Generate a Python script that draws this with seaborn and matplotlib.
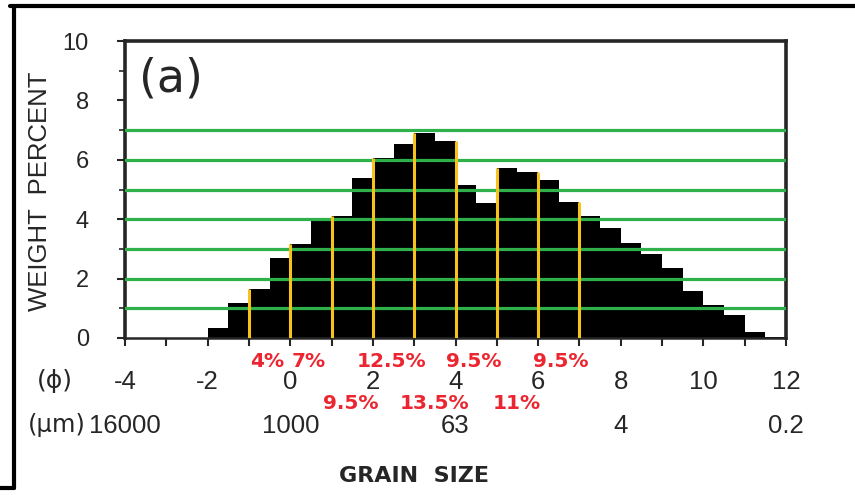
import numpy as np
import pandas as pd
import seaborn as sns
import matplotlib.pyplot as plt
from matplotlib.lines import Line2D

# Данные: левые границы бинов (phi, шаг 0.5) и весовые проценты
phi_left = [-2.0, -1.5, -1.0, -0.5, 0.0, 0.5, 1.0, 1.5, 2.0, 2.5,
            3.0, 3.5, 4.0, 4.5, 5.0, 5.5, 6.0, 6.5, 7.0, 7.5,
            8.0, 8.5, 9.0, 9.5, 10.0, 10.5, 11.0, 11.5]
weight_pct = [0.33, 1.19, 1.65, 2.68, 3.15, 3.94, 4.10, 5.38, 6.07, 6.52,
              6.89, 6.64, 5.15, 4.53, 5.73, 5.60, 5.32, 4.57, 4.10, 3.69,
              3.21, 2.83, 2.35, 1.59, 1.11, 0.76, 0.19, 0.04]
bin_width = 0.5

# Горизонтальные (зелёные) и вертикальные (жёлтые) линии
green_levels = [1, 2, 3, 4, 5, 6, 7]
yellow_phi = [-1, 0, 1, 2, 3, 4, 5, 6, 7]

# Проценты по интервалам в 1 phi
pct_top_mid = [-0.55, 0.45, 2.45, 4.45, 6.55]
pct_top_txt = ['4%', '7%', '12.5%', '9.5%', '9.5%']
pct_bot_mid = [1.47, 3.5, 5.48]
pct_bot_txt = ['9.5%', '13.5%', '11%']

# Подписи осей
phi_ticks = [-4, -2, 0, 2, 4, 6, 8, 10, 12]
um_ticks = [-4, 0, 4, 8, 12]
um_labels = ['16000', '1000', '63', '4', '0.2']

sns.set_style('ticks')
plt.rcParams['font.family'] = ['Liberation Sans', 'DejaVu Sans']
plt.rcParams['axes.unicode_minus'] = False

df = pd.DataFrame({'phi': np.array(phi_left) + bin_width / 2, 'w': weight_pct})
edges = list(phi_left) + [phi_left[-1] + bin_width]

fig = plt.figure(figsize=(8.55, 4.95), dpi=100)
ax = fig.add_axes([125 / 855, 1 - 338 / 495, 661 / 855, 297 / 495])

sns.histplot(data=df, x='phi', weights='w', bins=edges, stat='count',
             color='black', alpha=1, linewidth=0, ax=ax, zorder=2)

for lv in green_levels:
    ax.axhline(lv, color='#2fb04a', lw=2.3, zorder=3)

h = dict(zip(phi_left, weight_pct))
ytops = [max(h.get(p - bin_width, 0), h.get(float(p), 0)) for p in yellow_phi]
ax.vlines(yellow_phi, 0, ytops, color='#f7c21b', lw=2.2, zorder=4)

red = '#ec2630'
for x, t in zip(pct_top_mid, pct_top_txt):
    ax.text(x, -0.8, t, color=red, fontsize=14.5, fontweight='bold',
            ha='center', va='center', family=['DejaVu Sans'], clip_on=False)
for x, t in zip(pct_bot_mid, pct_bot_txt):
    ax.text(x, -2.2, t, color=red, fontsize=14.5, fontweight='bold',
            ha='center', va='center', family=['DejaVu Sans'], clip_on=False)

ax.set_xlim(-4, 12)
ax.set_ylim(0, 10)
ax.set_xticks(phi_ticks)
ax.set_xticks(range(-4, 13), minor=True)
ax.set_yticks(range(0, 11, 2))
ax.set_yticks(range(0, 11), minor=True)
ax.tick_params(axis='x', which='both', length=6, width=1.5, direction='out',
               labelsize=18.5, pad=17)
ax.tick_params(axis='y', which='major', length=6, width=1.5, labelsize=17, pad=20)
ax.tick_params(axis='y', which='minor', length=4, width=1.2)

for side in ['top', 'left', 'right']:
    ax.spines[side].set_linewidth(2.6)
ax.spines['bottom'].set_linewidth(1.8)

# Вторая строка подписей (мкм)
sec = ax.secondary_xaxis('bottom')
sec.set_xticks(um_ticks, labels=um_labels)
sec.tick_params(length=0, labelsize=18.5, pad=55)
sec.spines['bottom'].set_visible(False)

ax.text(-0.106, -0.145, '(ϕ)', transform=ax.transAxes, fontsize=18,
        ha='center', va='center', family=['DejaVu Sans'])
ax.text(-0.103, -0.293, '(μm)', transform=ax.transAxes, fontsize=17.5,
        ha='center', va='center', family=['DejaVu Sans'])

ax.set_xlabel('GRAIN  SIZE', fontsize=16, fontweight='bold', family=['DejaVu Sans'])
ax.xaxis.set_label_coords(0.437, -0.43)
ax.set_ylabel('WEIGHT  PERCENT', fontsize=18.5)
ax.yaxis.set_label_coords(-0.11, 0.495)

ax.text(0.069, 0.872, '(a)', transform=ax.transAxes, fontsize=33,
        ha='center', va='center', family=['DejaVu Sans'])

# Внешняя рамка панели
fig.add_artist(Line2D([10 / 855, 1], [1 - 6 / 495] * 2, color='black', lw=3))
fig.add_artist(Line2D([14 / 855] * 2, [1 - 6 / 495, 1 - 488 / 495], color='black', lw=3))
fig.add_artist(Line2D([0, 14 / 855], [1 - 488 / 495] * 2, color='black', lw=3))

fig.savefig('out.png', dpi=100)
